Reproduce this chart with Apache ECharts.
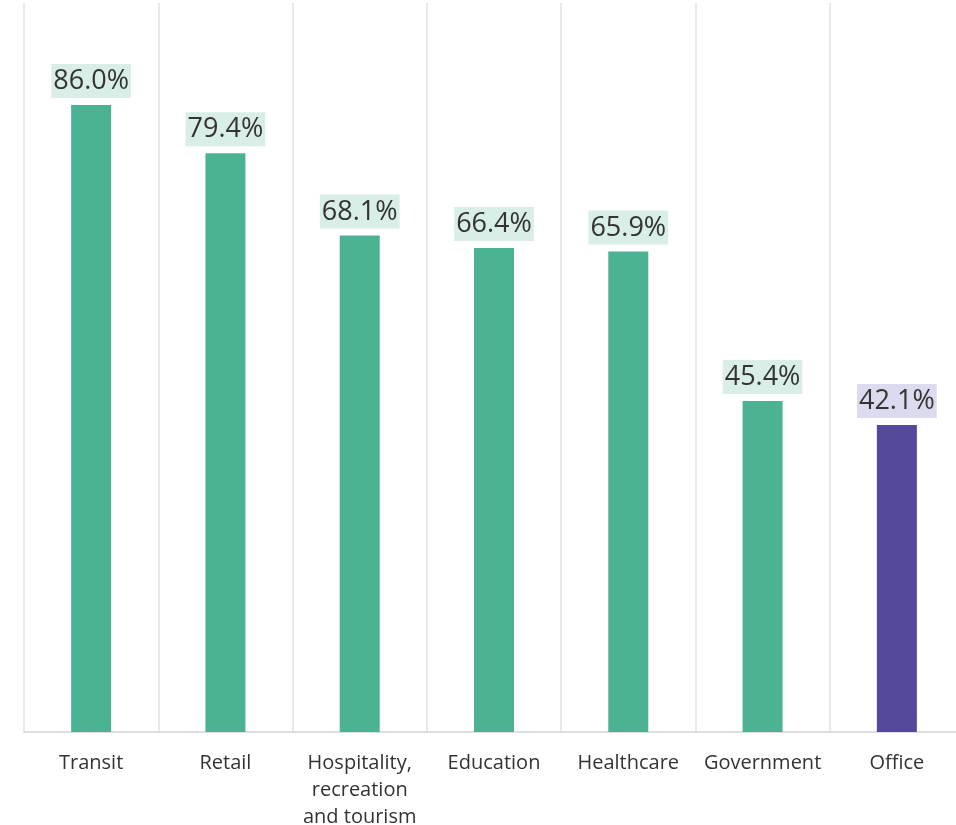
<!DOCTYPE html>
<html lang="en">
  <head>
    <meta charset="UTF-8" />
    <title>Sectors</title>
    <style>
      html, body { margin: 0; padding: 0; background: #fff; overflow: hidden; }
      .box { width: 956px; height: 825px; }
    </style>
  </head>
  <body>
    <div class="box"></div>
    <script src="https://cdn.jsdelivr.net/npm/echarts@6/dist/echarts.min.js"></script>
    <script>
      var categories = ['Transit', 'Retail', 'Hospitality,\nrecreation\nand tourism', 'Education', 'Healthcare', 'Government', 'Office'];
      var values = [86.0, 79.4, 68.1, 66.4, 65.9, 45.4, 42.1];
      // last bar highlighted
      var highlight = [false, false, false, false, false, false, true];

      var green = '#4bb393', greenBg = '#d9eee7';
      var purple = '#54489b', purpleBg = '#dcdaee';

      var barData = values.map(function (v, i) {
        return {
          value: v,
          itemStyle: { color: highlight[i] ? purple : green },
          label: { backgroundColor: highlight[i] ? purpleBg : greenBg }
        };
      });

      var myChart = echarts.init(document.querySelector('.box'));

      var option = {
        animation: false,
        // plot runs a bit past the right edge, as in the original
        grid: { left: 24, width: 940, top: 3, bottom: 93, outerBoundsMode: 'none', containLabel: false },
        xAxis: {
          type: 'category',
          data: categories,
          axisTick: { show: false },
          axisLine: { lineStyle: { color: '#d4d4d4', width: 1.5 } },
          splitLine: { show: true, lineStyle: { color: '#e2e2e2', width: 1.5 } },
          axisLabel: {
            interval: 0,
            margin: 18,
            fontFamily: 'Open Sans',
            fontSize: 20,
            lineHeight: 27,
            color: '#333'
          }
        },
        yAxis: {
          type: 'value',
          show: false,
          min: 0,
          max: 100
        },
        series: [{
          type: 'bar',
          data: barData,
          barWidth: 40,
          label: {
            show: true,
            position: 'top',
            distance: 7,
            formatter: function (p) { return p.value.toFixed(1) + '%'; },
            fontFamily: 'Open Sans',
            fontSize: 27,
            color: '#333',
            padding: [4, 2, 3, 2]
          }
        }]
      };
      myChart.setOption(option);
    </script>
  </body>
</html>
